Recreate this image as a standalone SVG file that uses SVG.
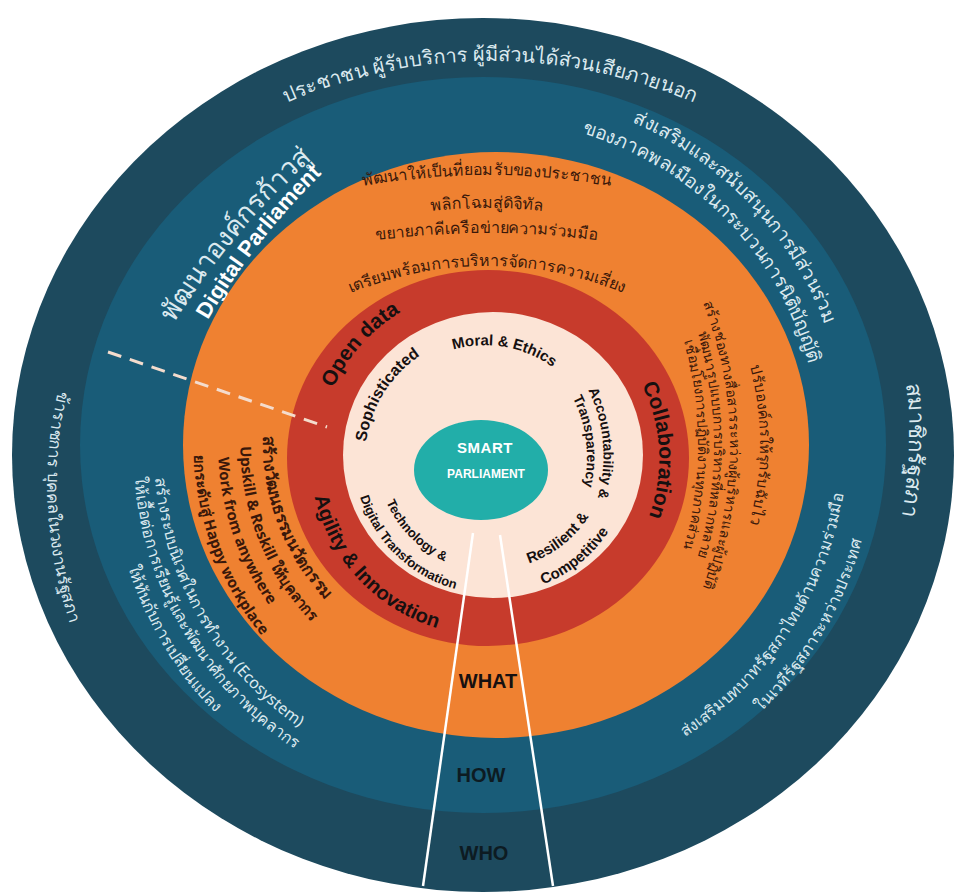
<svg xmlns="http://www.w3.org/2000/svg" xmlns:xlink="http://www.w3.org/1999/xlink" width="960" height="893" viewBox="0 0 960 893">
<style>
.th{font-family:'Noto Sans','DejaVu Sans',sans-serif;}
.en{font-family:'Liberation Sans',Arial,sans-serif;font-weight:bold;}
.lt{fill:#dbe9ef;}
.br{fill:#3a180a;}
.bk{fill:#161010;}
text{text-anchor:middle;}
</style>
<defs>
<path id="cap517" d="M -447.7 258.5 A 517 517 0 0 1 447.7 258.5"/>
<path id="cup430" d="M -372.4 -215 A 430 430 0 0 0 372.4 -215"/>
<path id="cap430" d="M -372.4 215 A 430 430 0 0 1 372.4 215"/>
<path id="cap700" d="M -606.2 350 A 700 700 0 0 1 606.2 350"/>
<path id="cap900" d="M -779.4 450 A 900 900 0 0 1 779.4 450"/>
<path id="cap360" d="M -311.8 180 A 360 360 0 0 1 311.8 180"/>
<path id="cap333" d="M -288.4 166.5 A 333 333 0 0 1 288.4 166.5"/>
<path id="cup334" d="M -289.2 -167 A 334 334 0 0 0 289.2 -167"/>
<path id="cup354" d="M -306.6 -177 A 354 354 0 0 0 306.6 -177"/>
<path id="cup378" d="M -327.3 -189 A 378 378 0 0 0 327.3 -189"/>
<path id="cup358" d="M -310 -179 A 358 358 0 0 0 310 -179"/>
<path id="cup386" d="M -334.3 -193 A 386 386 0 0 0 334.3 -193"/>
<path id="cap490" d="M -424.3 245 A 490 490 0 0 1 424.3 245"/>
<path id="cap354" d="M -306.6 177 A 354 354 0 0 1 306.6 177"/>
<path id="cap390" d="M -337.7 195 A 390 390 0 0 1 337.7 195"/>
<path id="cap300" d="M -259.8 150 A 300 300 0 0 1 259.8 150"/>
<path id="cup232" d="M -200.9 -116 A 232 232 0 0 0 200.9 -116"/>
<path id="cup256" d="M -221.7 -128 A 256 256 0 0 0 221.7 -128"/>
<path id="cup278" d="M -240.7 -139 A 278 278 0 0 0 240.7 -139"/>
<path id="cup302" d="M -261.5 -151 A 302 302 0 0 0 261.5 -151"/>
<path id="cap170" d="M -147.2 85 A 170 170 0 0 1 147.2 85"/>
<path id="cap165" d="M -142.9 82.5 A 165 165 0 0 1 142.9 82.5"/>
<path id="cup178" d="M -154.1 -89 A 178 178 0 0 0 154.1 -89"/>
<path id="cap115" d="M -99.6 57.5 A 115 115 0 0 1 99.6 57.5"/>
<path id="cap125" d="M -108.3 62.5 A 125 125 0 0 1 108.3 62.5"/>
<path id="cap150" d="M -129.9 75 A 150 150 0 0 1 129.9 75"/>
<path id="cap130" d="M -112.6 65 A 130 130 0 0 1 112.6 65"/>
<path id="cup114" d="M -98.7 -57 A 114 114 0 0 0 98.7 -57"/>
<path id="cup139" d="M -120.4 -69.5 A 139 139 0 0 0 120.4 -69.5"/>
<path id="cup117" d="M -101.3 -58.5 A 117 117 0 0 0 101.3 -58.5"/>
</defs>

<g id="ring-who">
<ellipse cx="483" cy="455" rx="471" ry="437" fill="#1d4a5e"/>
<text class="th lt" font-size="20" transform="translate(490 61)"><textPath href="#cap517" startOffset="50%">ประชาชน ผู้รับบริการ ผู้มีส่วนได้ส่วนเสียภายนอก</textPath></text>
<text class="th lt" font-size="16.5" transform="translate(48 508) rotate(87)"><textPath href="#cup430" startOffset="50%">ข้าราชการ บุคคลในวงงานรัฐสภา</textPath></text>
<text class="th lt" font-size="22" transform="translate(909 450) rotate(92)"><textPath href="#cap430" startOffset="50%">สมาชิกรัฐสภา</textPath></text>
</g>

<g id="ring-how">
<ellipse cx="483" cy="445" rx="403" ry="368" fill="#195c78"/>
<text class="th lt" font-size="27" transform="translate(237 236) rotate(-50)"><textPath href="#cap700" startOffset="50%">พัฒนาองค์กรก้าวสู่</textPath></text>
<text class="en" fill="#ffffff" font-size="22" transform="translate(260 243) rotate(-52)"><textPath href="#cap700" startOffset="50%">Digital Parliament</textPath></text>
<text class="th lt" font-size="19" transform="translate(749 204) rotate(46.4)"><textPath href="#cap360" startOffset="50%">ส่งเสริมและสนับสนุนการมีส่วนร่วม</textPath></text>
<text class="th lt" font-size="19" transform="translate(725 219) rotate(45.5)"><textPath href="#cap333" startOffset="50%">ของภาคพลเมืองในกระบวนการนิติบัญญัติ</textPath></text>
<text class="th lt" font-size="16" transform="translate(199 619) rotate(60)"><textPath href="#cup334" startOffset="50%">สร้างระบบนิเวศในการทำงาน (Ecosystem)</textPath></text>
<text class="th lt" font-size="16" transform="translate(183 632) rotate(59.4)"><textPath href="#cup354" startOffset="50%">ให้เอื้อต่อการเรียนรู้และพัฒนาศักยภาพบุคลากร</textPath></text>
<text class="th lt" font-size="16" transform="translate(163 645) rotate(59.3)"><textPath href="#cup378" startOffset="50%">ให้ทันกับการเปลี่ยนแปลง</textPath></text>
<text class="th lt" font-size="16" transform="translate(790 632) rotate(-57)"><textPath href="#cup358" startOffset="50%">ส่งเสริมบทบาทรัฐสภาไทยด้านความร่วมมือ</textPath></text>
<text class="th lt" font-size="16" transform="translate(823 633) rotate(-59.5)"><textPath href="#cup386" startOffset="50%">ในเวทีรัฐสภาระหว่างประเทศ</textPath></text>
</g>

<g id="ring-what">
<ellipse cx="496" cy="445" rx="313" ry="293" fill="#ef8131"/>
<text class="th br" font-size="16" transform="translate(487 175)"><textPath href="#cap700" startOffset="50%">พัฒนาให้เป็นที่ยอมรับของประชาชน</textPath></text>
<text class="th br" font-size="16" transform="translate(487 208)"><textPath href="#cap490" startOffset="50%">พลิกโฉมสู่ดิจิทัล</textPath></text>
<text class="th br" font-size="16" transform="translate(487 233)"><textPath href="#cap900" startOffset="50%">ขยายภาคีเครือข่ายความร่วมมือ</textPath></text>
<text class="th br" font-size="16" transform="translate(487 266)"><textPath href="#cap354" startOffset="50%">เตรียมพร้อมการบริหารจัดการความเสี่ยง</textPath></text>
<text class="th br" font-size="15" transform="translate(760 445) rotate(90)"><textPath href="#cap300" startOffset="50%">ปรับองค์กรให้รุกรับฉับไว</textPath></text>
<text class="th br" font-size="14" transform="translate(730 445) rotate(90)"><textPath href="#cap390" startOffset="50%">สร้างช่องทางสื่อสารระหว่างผู้บริหารและผู้ปฏิบัติ</textPath></text>
<text class="th br" font-size="14" transform="translate(714 445) rotate(90)"><textPath href="#cap390" startOffset="50%">พัฒนารูปแบบการบริหารที่หลากหลาย</textPath></text>
<text class="th br" font-size="14" transform="translate(698 445) rotate(90)"><textPath href="#cap390" startOffset="50%">เชื่อมโยงการปฏิบัติงานทุกภาคส่วน</textPath></text>
<text class="th br" font-size="16.5" font-weight="bold" transform="translate(278 524) rotate(69)"><textPath href="#cup232" startOffset="50%">สร้างวัฒนธรรมนวัตกรรม</textPath></text>
<text class="th br" font-size="15" font-weight="bold" transform="translate(259 541) rotate(68)"><textPath href="#cup256" startOffset="50%">Upskill &amp; Reskill ให้บุคลากร</textPath></text>
<text class="th br" font-size="15" font-weight="bold" transform="translate(233 535) rotate(71)"><textPath href="#cup278" startOffset="50%">Work from anywhere</textPath></text>
<text class="th br" font-size="15" font-weight="bold" transform="translate(213 551) rotate(69.5)"><textPath href="#cup302" startOffset="50%">ยกระดับสู่ Happy workplace</textPath></text>
</g>

<g id="ring-red">
<ellipse cx="488" cy="458" rx="201" ry="188" fill="#c73b2c"/>
<text class="en bk" font-size="21" transform="translate(361 345) rotate(-48.4)"><textPath href="#cap170" startOffset="50%">Open data</textPath></text>
<text class="en bk" font-size="21" transform="translate(659 450) rotate(87)"><textPath href="#cap165" startOffset="50%">Collaboration</textPath></text>
<text class="en bk" font-size="20" transform="translate(358 579) rotate(47)"><textPath href="#cup178" startOffset="50%">Agility &amp; Innovation</textPath></text>
</g>

<g id="ring-cream">
<ellipse cx="493" cy="455" rx="150" ry="143" fill="#fce4d6"/>
<text class="en bk" font-size="15" transform="translate(505 347) rotate(10)"><textPath href="#cap115" startOffset="50%">Moral &amp; Ethics</textPath></text>
<text class="en bk" font-size="16" transform="translate(384 393) rotate(-58)"><textPath href="#cap125" startOffset="50%">Sophisticated</textPath></text>
<text class="en bk" font-size="14" transform="translate(603 443) rotate(85)"><textPath href="#cap150" startOffset="50%">Accountability &amp;</textPath></text>
<text class="en bk" font-size="14" transform="translate(586 441) rotate(83)"><textPath href="#cap130" startOffset="50%">Transparency</textPath></text>
<text class="en bk" font-size="15" transform="translate(563 545) rotate(-38)"><textPath href="#cup114" startOffset="50%">Resilient &amp;</textPath></text>
<text class="en bk" font-size="15" transform="translate(580 563) rotate(-39)"><textPath href="#cup139" startOffset="50%">Competitive</textPath></text>
<text class="en bk" font-size="13" transform="translate(410 537) rotate(45.5)"><textPath href="#cup117" startOffset="50%">Technology &amp;</textPath></text>
<text class="en bk" font-size="13" transform="translate(396 555) rotate(44)"><textPath href="#cup139" startOffset="50%">Digital Transformation</textPath></text>
</g>

<g id="core">
<ellipse cx="481" cy="470" rx="67" ry="50" fill="#22aea9"/>
<text class="en" fill="#ffffff" font-size="15" x="485" y="453" letter-spacing="0.5">SMART</text>
<text class="en" fill="#ffffff" font-size="12" x="486" y="478">PARLIAMENT</text>
</g>

<g id="connectors">
<line x1="473" y1="533" x2="423" y2="886" stroke="#ffffff" stroke-width="2.5"/>
<line x1="500" y1="535" x2="553" y2="886" stroke="#ffffff" stroke-width="2.5"/>
<line x1="108" y1="352" x2="327" y2="427" stroke="#f4dccd" stroke-width="3" stroke-dasharray="14 9"/>
</g>

<g id="labels">
<text class="en bk" font-size="20" x="488" y="688">WHAT</text>
<text class="en" fill="#0d1b22" font-size="20" x="481" y="782">HOW</text>
<text class="en" fill="#0d1b22" font-size="20" x="484" y="860">WHO</text>
</g>
</svg>
